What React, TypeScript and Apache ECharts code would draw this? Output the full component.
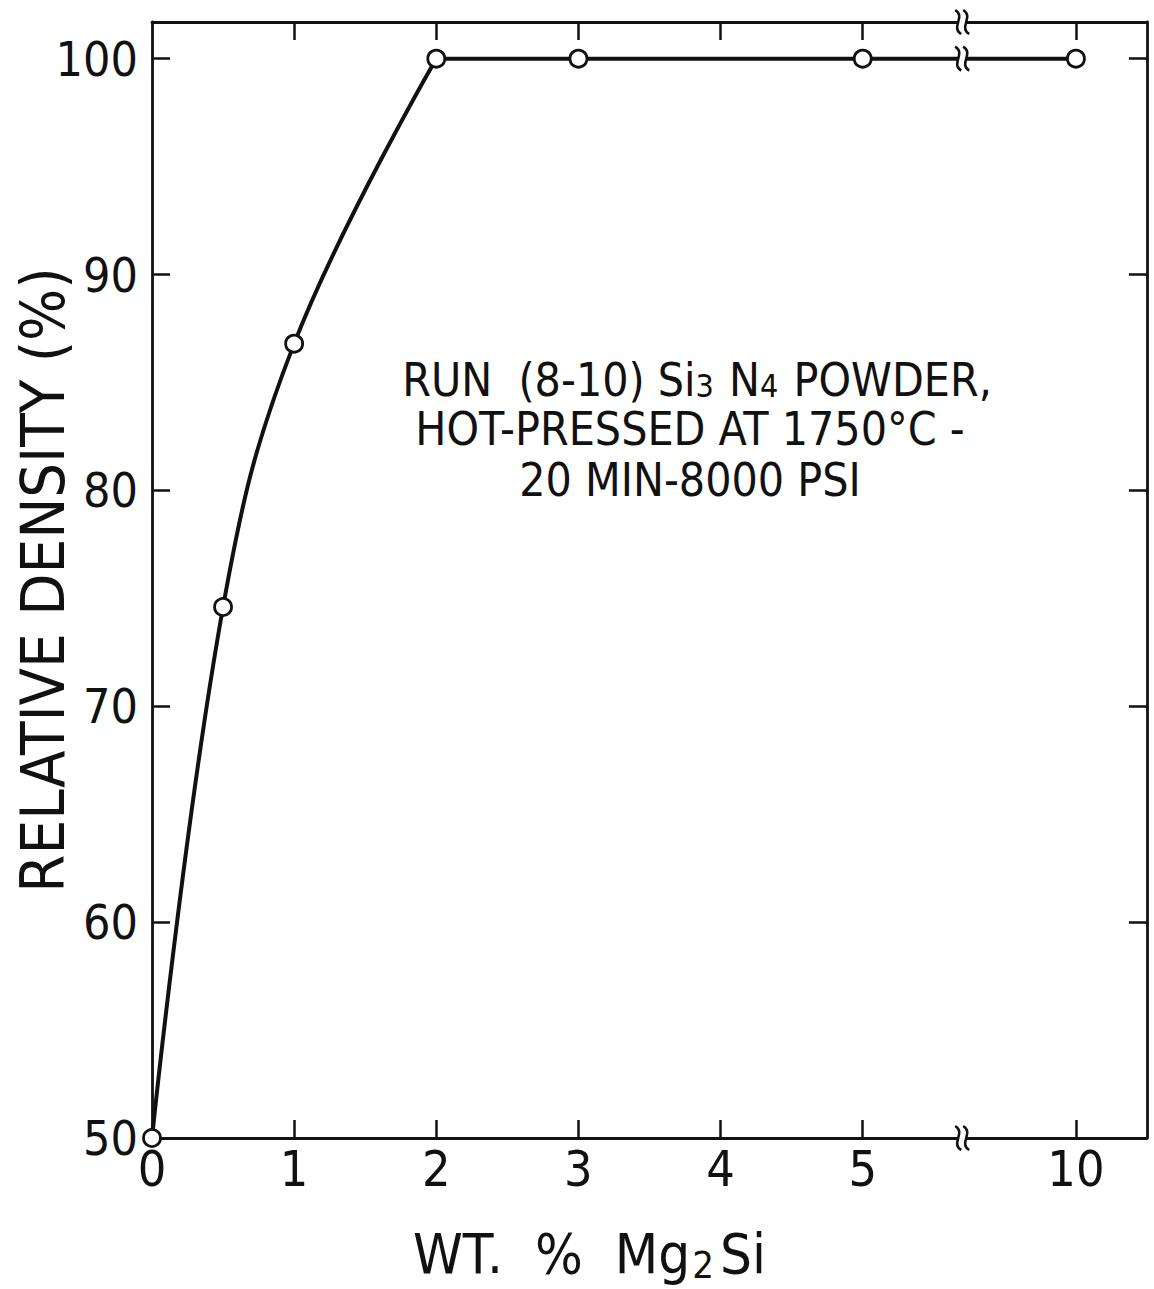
import React, { useEffect, useRef } from "react";
import * as echarts from "echarts";

// ---- data ----
const wtPercent = [0, 0.5, 1, 2, 3, 5, 10];
const relDensity = [50, 74.6, 86.8, 100, 100, 100, 100];
// plotted position of each x value (axis is broken between 5 and 10)
const xPosition = [0, 0.5, 1, 2, 3, 5, 6.5];
const xTickPositions = [0, 1, 2, 3, 4, 5, 6.5];
const xTickLabels = ["0", "1", "2", "3", "4", "5", "10"];
const yTicks = [50, 60, 70, 80, 90, 100];
const breakAt = 5.7;

const FONT = "'DejaVu Sans Condensed', 'Liberation Sans Narrow', 'Arial Narrow', 'DejaVu Sans', sans-serif";
const INK = "#111";

export default function App() {
  const ref = useRef<HTMLDivElement>(null);
  useEffect(() => {
    document.body.style.margin = "0";
    const chart = echarts.init(ref.current!, null, { renderer: "svg" });
    const pts = wtPercent.map((w, i) => [xPosition[i], relDensity[i]]);
    const rising = pts.filter((p, i) => wtPercent[i] <= 2);
    const flat = pts.filter((p, i) => wtPercent[i] >= 2);
    const yMin = 50;
    const yMax = 101.7;
    const xMin = 0;
    const xMax = 7;
    const tickStyle = { show: true, inside: true, length: 18, lineStyle: { color: INK, width: 2.5 } };
    const lineStyle = { color: INK, width: 2.8 };
    chart.setOption({
      animation: false,
      backgroundColor: "#fff",
      grid: { left: 152, right: 7, top: 22, bottom: 151, outerBoundsMode: "none", containLabel: false },
      xAxis: [
        {
          type: "value",
          min: xMin,
          max: xMax,
          position: "bottom",
          axisLine: { show: true, onZero: false, lineStyle },
          axisTick: { ...tickStyle, customValues: xTickPositions.filter((v) => v > 0) },
          axisLabel: {
            customValues: xTickPositions,
            formatter: (v: number) => {
              const i = xTickPositions.indexOf(v);
              return i >= 0 ? xTickLabels[i] : "";
            },
            fontFamily: FONT,
            fontSize: 50,
            color: INK,
            margin: 6,
          },
          splitLine: { show: false },
          name: "WT.  %  Mg{sub|2}Si",
          nameLocation: "middle",
          nameMoveOverlap: false,
          nameGap: 84,
          nameTextStyle: {
            fontFamily: FONT,
            fontSize: 56,
            color: INK,
            padding: [0, 120, 0, 0],
            rich: {
              sub: { fontFamily: FONT, fontSize: 38, color: INK, padding: [24, 6, 0, 2] },
            },
          },
        },
        {
          type: "value",
          min: xMin,
          max: xMax,
          position: "top",
          axisLine: { show: true, onZero: false, lineStyle },
          axisTick: { ...tickStyle, customValues: xTickPositions.filter((v) => v > 0) },
          axisLabel: { show: false },
          splitLine: { show: false },
        },
      ],
      yAxis: [
        {
          type: "value",
          min: yMin,
          max: yMax,
          interval: 10,
          position: "left",
          axisLine: { show: true, onZero: false, lineStyle },
          axisTick: { ...tickStyle, customValues: yTicks.filter((v) => v > 50) },
          axisLabel: {
            customValues: yTicks,
            formatter: (v: number) => (yTicks.indexOf(v) >= 0 ? String(v) : ""),
            fontFamily: FONT,
            fontSize: 48,
            color: INK,
            margin: 14,
          },
          splitLine: { show: false },
          name: "RELATIVE DENSITY (%)",
          nameLocation: "middle",
          nameMoveOverlap: false,
          nameGap: 79,
          nameTextStyle: { fontFamily: FONT, fontSize: 61, color: INK },
        },
        {
          type: "value",
          min: yMin,
          max: yMax,
          interval: 10,
          position: "right",
          axisLine: { show: true, onZero: false, lineStyle },
          axisTick: { ...tickStyle, customValues: yTicks.filter((v) => v > 50) },
          axisLabel: { show: false },
          splitLine: { show: false },
        },
      ],
      series: [
        {
          type: "line",
          data: rising,
          smooth: 0.4,
          showSymbol: false,
          clip: false,
          lineStyle: { color: INK, width: 4 },
          z: 2,
        },
        {
          type: "line",
          data: flat,
          showSymbol: false,
          clip: false,
          lineStyle: { color: INK, width: 4 },
          z: 2,
        },
        {
          type: "scatter",
          data: pts,
          symbol: "circle",
          symbolSize: 17,
          clip: false,
          itemStyle: { color: "#fff", borderColor: INK, borderWidth: 2.8, opacity: 1 },
          z: 5,
        },
      ],
    });

    const breakMark = (v: number) => {
      const [cx, cy] = chart.convertToPixel({ xAxisIndex: 0, yAxisIndex: 0 }, [breakAt, v]) as number[];
      const curve = (dx: number) => ({
        type: "bezierCurve",
        shape: {
          x1: cx + dx - 3, y1: cy - 12,
          cpx1: cx + dx + 8, cpy1: cy - 5,
          cpx2: cx + dx - 8, cpy2: cy + 5,
          x2: cx + dx + 3, y2: cy + 12,
        },
        style: { stroke: INK, lineWidth: 2.6, fill: null },
        z: 20,
      });
      return [
        { type: "rect", shape: { x: cx - 4, y: cy - 5, width: 8, height: 10 }, style: { fill: "#fff" }, z: 19 },
        curve(-4),
        curve(4),
      ];
    };

    const noteStyle = { fontFamily: FONT, fontSize: 46, fill: INK, align: "center", verticalAlign: "middle", lineHeight: 42 };
    chart.setOption({
      graphic: [
        ...breakMark(yMax),
        ...breakMark(100),
        ...breakMark(yMin),
        {
          type: "text",
          x: 697,
          y: 380,
          style: {
            ...noteStyle,
            text: "RUN  (8-10) Si{sub|3} N{sub|4} POWDER,",
            rich: { sub: { fontFamily: FONT, fontSize: 32, fill: INK, lineHeight: 28, padding: [12, 2, 0, 0] } },
          },
          z: 30,
        },
        {
          type: "text",
          x: 690,
          y: 429,
          style: { ...noteStyle, text: "HOT-PRESSED AT 1750°C -" },
          z: 30,
        },
        {
          type: "text",
          x: 690,
          y: 480,
          style: { ...noteStyle, text: "20 MIN-8000 PSI" },
          z: 30,
        },
      ],
    });
    return () => chart.dispose();
  }, []);
  return <div ref={ref} style={{ width: 1154, height: 1289 }} />;
}
